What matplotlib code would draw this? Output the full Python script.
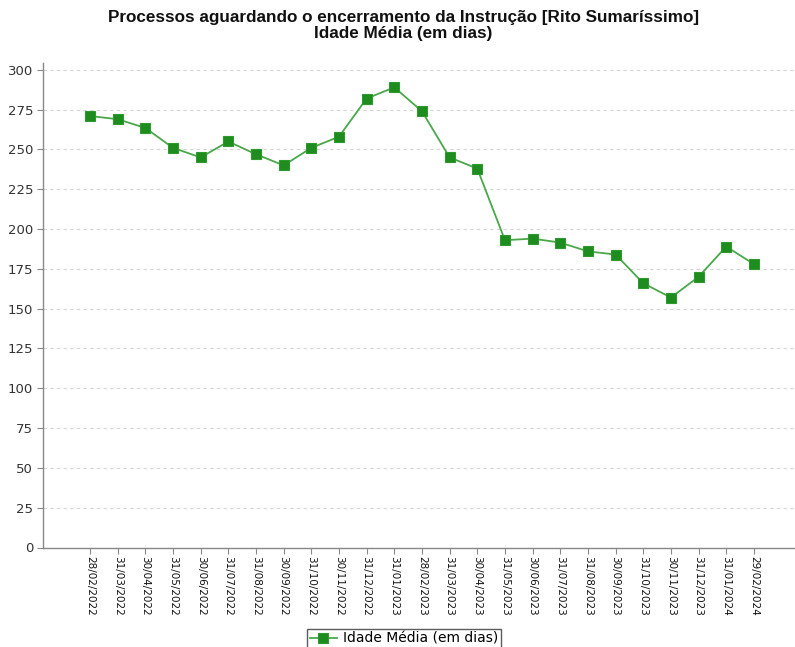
import matplotlib
matplotlib.use("Agg")
import matplotlib.pyplot as plt

dates = ["28/02/2022", "31/03/2022", "30/04/2022", "31/05/2022", "30/06/2022",
         "31/07/2022", "31/08/2022", "30/09/2022", "31/10/2022", "30/11/2022",
         "31/12/2022", "31/01/2023", "28/02/2023", "31/03/2023", "30/04/2023",
         "31/05/2023", "30/06/2023", "31/07/2023", "31/08/2023", "30/09/2023",
         "31/10/2023", "30/11/2023", "31/12/2023", "31/01/2024", "29/02/2024"]
idade_media = [271, 269, 263.5, 251, 245, 255, 247, 240, 251, 258,
               282, 289, 274, 245, 238, 193, 194, 191.5, 186, 184,
               166, 157, 170, 189, 178]
yticks = [0, 25, 50, 75, 100, 125, 150, 175, 200, 225, 250, 275, 300]
title = "Processos aguardando o encerramento da Instrução [Rito Sumaríssimo]\nIdade Média (em dias)"
legend_label = "Idade Média (em dias)"

fig = plt.figure(figsize=(7.95, 6.47), dpi=100)
ax = fig.add_axes([43/795, 1 - 547.5/647, (794-43)/795, (547.5-63)/647])

x = list(range(len(dates)))
ax.plot(x, idade_media, color="#4aa84a", linewidth=1.3, marker="s",
        markersize=7, markerfacecolor="#1e8c1e", markeredgecolor="#2e9a2e",
        markeredgewidth=0.8, label=legend_label, zorder=3)

ax.set_xlim(-1.70, 25.45)
ax.set_ylim(0, 304.3)
ax.set_yticks(yticks)
ax.set_xticks(x)
ax.set_xticklabels(dates, rotation=270, fontsize=7.5, color="#111111",
                   family="DejaVu Sans")
ax.tick_params(axis="x", length=4, width=0.8, color="#888888", pad=2)
ax.tick_params(axis="y", length=4, width=0.8, color="#888888", labelsize=9.5,
               labelcolor="#333333", pad=3)
for lbl in ax.get_yticklabels():
    lbl.set_family("DejaVu Sans")

ax.grid(axis="y", linestyle=(0, (3, 3)), color="#d4d4d4", linewidth=0.8)
ax.set_axisbelow(True)
for s in ["top", "right"]:
    ax.spines[s].set_visible(False)
for s in ["left", "bottom"]:
    ax.spines[s].set_color("#888888")
    ax.spines[s].set_linewidth(1.0)

fig.text(0.507, 1 - 10/647, title, ha="center", va="top", fontsize=12.3,
         fontweight="bold", family=["Liberation Sans", "DejaVu Sans"],
         color="#111111", linespacing=1.12)

leg = fig.legend(loc="upper center", bbox_to_anchor=(0.508, 1 - 622/647),
                 frameon=True, fancybox=False,
                 prop={"family": "DejaVu Sans", "size": 10},
                 handlelength=2.0, borderpad=0.2, handletextpad=0.4,
                 edgecolor="#333333")
leg.get_frame().set_linewidth(1.0)

fig.savefig("out.png", dpi=100)
